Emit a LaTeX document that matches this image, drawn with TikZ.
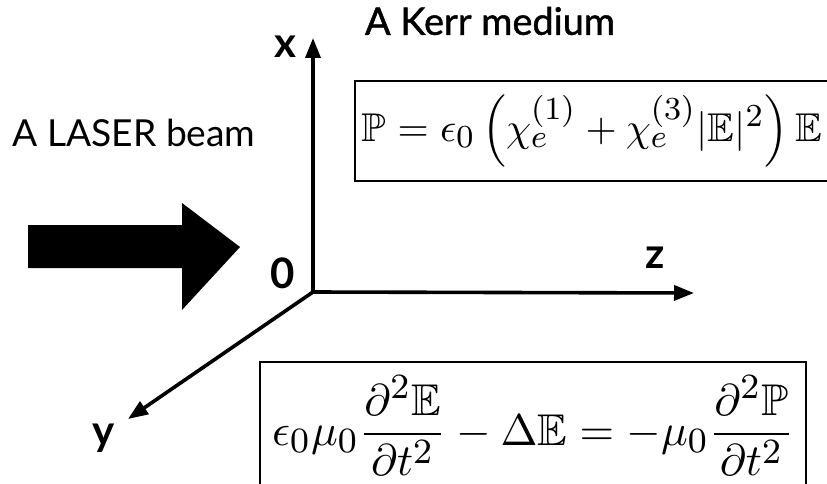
\documentclass[tikz,border=0pt]{standalone}
\usepackage{amsmath,amssymb}
\usepackage{fontspec}
\setmainfont{Lato}
\newfontfamily\kerrfont[FakeBold=1.2]{Lato}
\DeclareMathSizes{10}{10}{8.2}{6.5}
\usetikzlibrary{arrows.meta}
\tikzset{
  axis/.style={line width=3.6pt,-{Triangle[length=20pt,width=15pt]}},
  lbl/.style={font=\bfseries\fontsize{42}{46}\selectfont, inner sep=0pt},
  ttl/.style={inner sep=0pt},
  eqbox/.style={draw=black, line width=1.8pt}
}
\begin{document}
\begin{tikzpicture}[x=1pt,y=-1pt]
\clip (0,0) rectangle (827,484);
\fill[white] (0,0) rectangle (827,484);
% coordinates
\coordinate (O) at (313,292);
\coordinate (X) at (313,38);
\coordinate (Z) at (694,293);
\coordinate (Y) at (128,419);
% axes
\draw[axis] (O) -- (X);
\draw[axis] (O) -- (Z);
\draw[axis] (O) -- (Y);
% axis labels
\node[lbl] (lx) at (285,47) {x};
\node[lbl] (lz) at (655,258) {z};
\node[lbl] (ly) at (104,438) {y};
\node[lbl] (l0) at (283,273) {0};
% titles
\node[ttl] (laser) at (134,133) {\resizebox{243pt}{!}{A LASER beam}};
\node[ttl] (kerr) at (490,21) {\resizebox{250pt}{!}{\kerrfont A Kerr medium}};
% block arrow
\fill[black] (28,225) -- (182,225) -- (182,203) -- (240,247) -- (182,310) -- (182,268) -- (28,268) -- cycle;
% boxes
\draw[eqbox] (355,81) rectangle (860,181);
\node[ttl] (eq1) at (592,131) {\resizebox{460pt}{!}{$\mathbb{P}=\epsilon_0\left(\chi_e^{(1)}+\chi_e^{(3)}|\mathbb{E}|^2\right)\mathbb{E}$}};
\draw[eqbox] (260,362) rectangle (806,520);
\node[ttl] (eq2) at (533,426) {\resizebox{522pt}{!}{$\displaystyle \epsilon_0\mu_0\frac{\partial^2\mathbb{E}}{\partial t^2}-\Delta\mathbb{E}=-\mu_0\frac{\partial^2\mathbb{P}}{\partial t^2}$}};
\end{tikzpicture}
\end{document}
